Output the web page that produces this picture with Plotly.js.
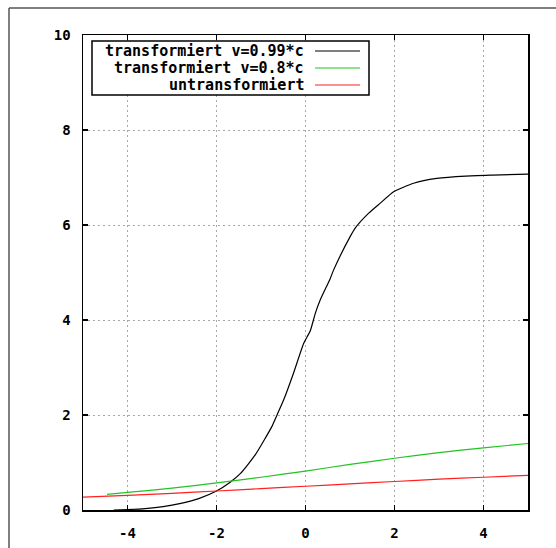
<!DOCTYPE html>
<html>
<head>
<meta charset="utf-8">
<script src="https://cdn.plot.ly/plotly-3.0.1.min.js"></script>
<style>html,body{margin:0;padding:0;background:#fff;}#chart{width:556px;height:548px;}</style>
</head>
<body>
<div id="chart"></div>
<script>
// Series names
const seriesNames = ["transformiert v=0.99*c", "transformiert v=0.8*c", "untransformiert"];
const seriesColors = ["#000000", "#22c322", "#ff2020"];

// transformiert v=0.99*c
const x099 = [-4.31, -4.0, -3.6, -3.2, -2.8, -2.4, -2.0, -1.7, -1.46, -1.13, -0.76, -0.64, -0.49, -0.27, -0.04, 0.11, 0.22, 0.33, 0.55, 0.63, 1.0, 1.12, 1.42, 1.68, 1.98, 2.43, 2.95, 3.6, 4.2, 5.0];
const y099 = [0.0, 0.01, 0.03, 0.07, 0.14, 0.24, 0.40, 0.58, 0.77, 1.16, 1.75, 2.0, 2.32, 2.88, 3.51, 3.78, 4.14, 4.42, 4.86, 5.05, 5.75, 5.94, 6.25, 6.46, 6.70, 6.88, 6.98, 7.03, 7.05, 7.07];

// transformiert v=0.8*c
const x08 = [-4.46, -4.0, -3.0, -2.0, -1.0, 0.0, 1.0, 2.0, 3.0, 4.0, 5.0];
const y08 = [0.33, 0.37, 0.46, 0.57, 0.69, 0.82, 0.96, 1.09, 1.21, 1.31, 1.40];

// untransformiert
const xUn = [-5, -4, -3, -2, -1, 0, 1, 2, 3, 4, 5];
const yUn = [0.27, 0.31, 0.35, 0.40, 0.45, 0.50, 0.55, 0.60, 0.65, 0.69, 0.73];

const xTicks = [-4, -2, 0, 2, 4];
const yTicks = [0, 2, 4, 6, 8, 10];

const xs = [x099, x08, xUn];
const ys = [y099, y08, yUn];

const traces = xs.map((x, i) => ({
  type: "scatter", mode: "lines", x: x, y: ys[i], name: seriesNames[i],
  line: {color: seriesColors[i], width: 1.2, shape: "spline", smoothing: 0.5}, showlegend: false, hoverinfo: "skip"
}));

const tickFont = {family: "DejaVu Sans Mono", size: 14, color: "#000", weight: "bold"};
const M = {l: 83, r: 28, t: 35, b: 38};
const W = 556, H = 548;
const pw = W - M.l - M.r, ph = H - M.t - M.b;
const px = v => (v - M.l) / pw;
const py = v => (H - M.b - v) / ph;

const shapes = [];
const annotations = [];
// outer frame (top and left)
shapes.push({type: "line", xref: "paper", yref: "paper", x0: px(9), x1: px(560), y0: py(8), y1: py(8), line: {color: "#555", width: 1.5}});
shapes.push({type: "line", xref: "paper", yref: "paper", x0: px(9), x1: px(9), y0: py(8), y1: py(560), line: {color: "#555", width: 1.5}});
// legend box
shapes.push({type: "rect", xref: "paper", yref: "paper", x0: px(92), x1: px(369), y0: py(95), y1: py(41), line: {color: "#000", width: 1.5}, fillcolor: "#fff", layer: "above"});
const rowY = [51, 68, 85];
seriesNames.forEach((n, i) => {
  shapes.push({type: "line", xref: "paper", yref: "paper", x0: px(315), x1: px(360), y0: py(rowY[i]), y1: py(rowY[i]), line: {color: seriesColors[i], width: 1.2}, layer: "above"});
  annotations.push({xref: "paper", yref: "paper", x: px(305), y: py(rowY[i]), xanchor: "right", yanchor: "middle", text: n, showarrow: false, borderpad: 0, font: {family: "DejaVu Sans Mono", size: 15, color: "#000", weight: "bold"}});
});

const layout = {
  width: W, height: H,
  margin: M,
  paper_bgcolor: "#fff", plot_bgcolor: "#fff",
  showlegend: false,
  xaxis: {range: [-5, 5], tickvals: xTicks, ticktext: xTicks.map(String), ticks: "inside", ticklen: 5, tickcolor: "#000", tickwidth: 1.5,
    mirror: "ticks", showline: true, linecolor: "#000", linewidth: 1.5, showgrid: true, gridcolor: "#a8a8a8", gridwidth: 1, griddash: "2px,3px",
    zeroline: false, tickfont: tickFont, ticklabelstandoff: 10, fixedrange: true},
  yaxis: {range: [0, 10], tickvals: yTicks, ticktext: yTicks.map(String), ticks: "inside", ticklen: 5, tickcolor: "#000", tickwidth: 1.5,
    mirror: "ticks", showline: true, linecolor: "#000", linewidth: 1.5, showgrid: true, gridcolor: "#a8a8a8", gridwidth: 1, griddash: "2px,3px",
    zeroline: false, tickfont: tickFont, ticklabelstandoff: 8, fixedrange: true},
  shapes: shapes,
  annotations: annotations
};

Plotly.newPlot("chart", traces, layout, {staticPlot: true});
</script>
</body>
</html>
